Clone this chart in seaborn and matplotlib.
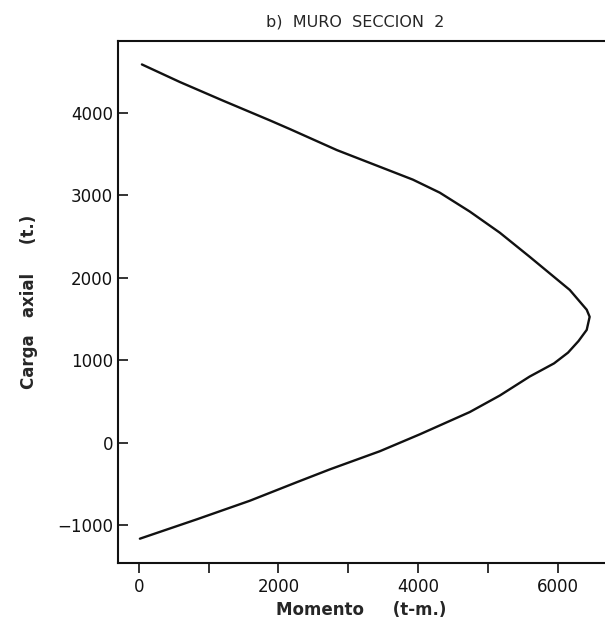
import pandas as pd
import matplotlib
matplotlib.use('Agg')
import matplotlib.pyplot as plt
import seaborn as sns

# Diagrama de interaccion - muro seccion 2
momento = [43, 587, 1203, 1877, 2163, 2837, 3926, 4312, 4742, 5172, 5600,
           6175, 6418, 6460, 6418, 6300, 6150, 5950, 5600, 5172, 4742, 4026,
           3453, 2736, 2264, 1590, 831, 14]
carga = [4583, 4370, 4145, 3905, 3800, 3545, 3187, 3029, 2800, 2544, 2252,
         1850, 1610, 1524, 1366, 1230, 1090, 960, 800, 570, 370, 100,
         -105, -325, -480, -705, -930, -1165]

dados = pd.DataFrame({'Momento': momento, 'Carga': carga})

sns.set_style('ticks')
plt.rcParams['font.family'] = ['DejaVu Sans']

fig = plt.figure(figsize=(6.05, 6.3), dpi=100)
ax = fig.add_axes([0.195, 0.1063, 0.805, 0.829])

sns.lineplot(data=dados, x='Momento', y='Carga', sort=False, estimator=None,
             color='#111111', linewidth=1.7, ax=ax)

ax.set_xlim(-300, 6680)
ax.set_ylim(-1460, 4870)
ax.set_xticks([0, 2000, 4000, 6000])
ax.set_xticks([1000, 3000, 5000], minor=True)
ax.set_yticks([-1000, 0, 1000, 2000, 3000, 4000])
ax.tick_params(axis='x', which='both', direction='out', length=7, width=1.2,
               labelsize=12, colors='#111111')
ax.tick_params(axis='y', direction='in', length=7, width=1.2,
               labelsize=12, colors='#111111')
ax.set_yticklabels(['\u22121000', '0', '1000', '2000', '3000', '4000'])

for s in ax.spines.values():
    s.set_linewidth(1.5)
    s.set_color('#111111')
ax.spines['right'].set_visible(False)

ax.set_title('b)  MURO  SECCION  2', fontsize=11.5, pad=10, x=0.487)
ax.set_xlabel('Momento     (t-m.)', fontsize=12, fontweight='bold', labelpad=4)
ax.set_ylabel('Carga   axial     (t.)', fontsize=12, fontweight='bold', labelpad=14)

plt.savefig('out.png', dpi=100)
